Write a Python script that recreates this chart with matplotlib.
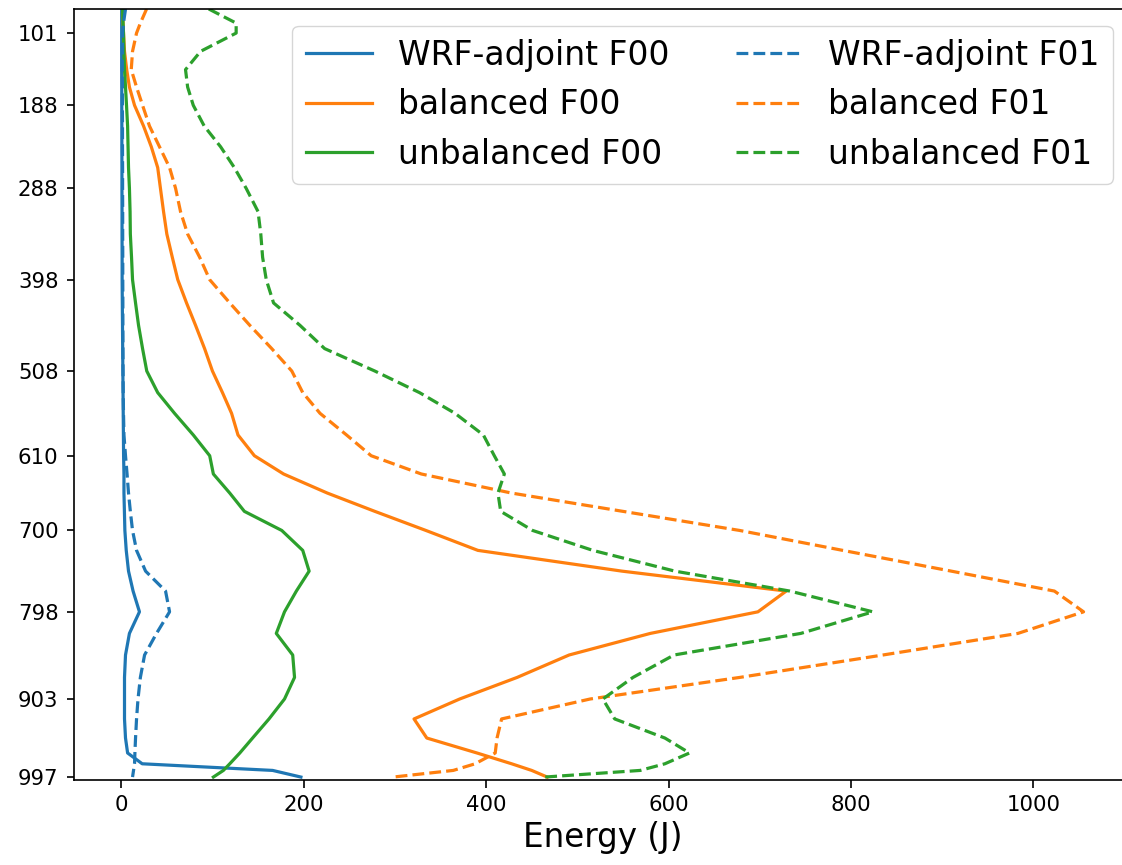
import matplotlib
matplotlib.use("Agg")
import matplotlib.pyplot as plt

# Pressure levels (hPa), top of the model down to the surface
pressure = [72, 89, 101, 123, 145, 166, 188, 213, 238, 263, 288, 316, 343, 371,
            398, 426, 453, 481, 508, 534, 559, 585, 610, 632, 655, 677, 700, 724,
            749, 773, 798, 824, 850, 877, 903, 927, 950, 968, 981, 989, 997]

# Energy profiles (J) on those levels
wrf_adj_f00 = [0.5, 0.5, 0.5, 0.5, 0.5, 0.6, 0.6, 0.7, 0.7, 0.8, 0.8, 0.9, 0.9, 1.0,
               1.0, 1.2, 1.4, 1.6, 1.8, 2.0, 2.2, 2.4, 2.6, 3.0, 3.0, 3.5, 4.0, 5.5,
               8.0, 13.0, 20.0, 9.0, 4.7, 3.6, 3.6, 3.6, 4.7, 7.0, 23.0, 166.0, 197.0]
wrf_adj_f01 = [4.7, 2.5, 1.5, 1.2, 1.2, 1.3, 1.3, 1.4, 1.4, 1.5, 1.5, 1.6, 1.6, 1.7,
               1.7, 1.8, 1.8, 1.9, 2.0, 2.2, 2.5, 3.0, 4.7, 6.4, 8.0, 10.0, 12.4, 16.8,
               26.7, 48.6, 53.0, 38.7, 25.6, 21.0, 18.4, 16.8, 15.7, 15.0, 14.6, 13.5, 12.4]
balanced_f00 = [1.5, 2.0, 2.5, 3.6, 6.0, 9.0, 14.6, 24.5, 33.0, 40.0, 43.0, 46.4, 50.0, 56.0,
                62.0, 71.6, 81.5, 91.4, 100.0, 111.0, 121.0, 128.0, 146.0, 178.0, 226.0, 278.0, 334.0, 391.0,
                549.0, 729.0, 698.0, 580.0, 491.0, 434.0, 371.0, 321.0, 335.0, 390.0, 428.0, 450.0, 467.0]
balanced_f01 = [27.8, 21.0, 16.8, 12.4, 11.0, 16.8, 23.4, 31.0, 42.0, 53.0, 59.6, 65.0, 72.8, 86.0,
                97.0, 119.0, 141.0, 165.0, 187.0, 199.0, 218.0, 247.0, 274.0, 329.0, 428.0, 550.0, 678.0, 791.0,
                910.0, 1023.0, 1055.0, 983.0, 835.0, 678.0, 514.0, 417.0, 412.0, 410.0, 388.0, 364.0, 298.0]
unbalanced_f00 = [1.5, 2.0, 2.5, 3.0, 3.6, 4.7, 5.8, 7.0, 7.5, 8.0, 9.0, 9.7, 10.0, 11.3,
                  12.4, 15.7, 19.0, 23.4, 28.0, 40.0, 58.5, 79.0, 97.0, 101.0, 119.0, 135.0, 176.0, 199.0,
                  206.0, 192.0, 179.0, 170.0, 188.0, 190.0, 179.0, 162.0, 144.0, 130.0, 119.0, 112.0, 101.0]
unbalanced_f01 = [96.0, 126.0, 126.0, 87.0, 70.5, 72.8, 79.0, 91.0, 109.0, 124.0, 137.0, 150.0, 153.0, 155.0,
                  159.0, 167.0, 196.0, 223.0, 278.0, 327.0, 366.0, 397.0, 409.0, 420.0, 413.0, 416.0, 451.0, 517.0,
                  607.0, 733.0, 824.0, 745.0, 606.0, 561.0, 528.0, 541.0, 596.0, 623.0, 596.0, 569.0, 464.0]

tick_levels = [101, 188, 288, 398, 508, 610, 700, 798, 903, 997]
tick_labels = [str(v) for v in tick_levels]

fig = plt.figure(figsize=(11.22, 8.65), dpi=100)
# the axes runs a little past the right edge of the canvas
ax = fig.add_axes([0.0656, 0.0983, 0.943, 0.8913])

lw = 2.3
ax.plot(wrf_adj_f00, pressure, color="C0", lw=lw, label="WRF-adjoint F00")
ax.plot(balanced_f00, pressure, color="C1", lw=lw, label="balanced F00")
ax.plot(unbalanced_f00, pressure, color="C2", lw=lw, label="unbalanced F00")
ax.plot(wrf_adj_f01, pressure, color="C0", lw=lw, ls="--", label="WRF-adjoint F01")
ax.plot(balanced_f01, pressure, color="C1", lw=lw, ls="--", label="balanced F01")
ax.plot(unbalanced_f01, pressure, color="C2", lw=lw, ls="--", label="unbalanced F01")

ax.set_xlim(-52.2, 1107.7)
ax.set_ylim(1000.5, 72)
ax.set_yticks(tick_levels)
ax.set_yticklabels(tick_labels)
ax.tick_params(labelsize=15.3, length=5.4, width=1.2, pad=5.4)
for s in ax.spines.values():
    s.set_linewidth(1.2)

ax.set_xlabel("Energy (J)", fontsize=23.5)
ax.legend(loc="upper right", ncol=2, fontsize=23.8, bbox_to_anchor=(0.998, 1.0))

fig.savefig("out.png", dpi=100)
